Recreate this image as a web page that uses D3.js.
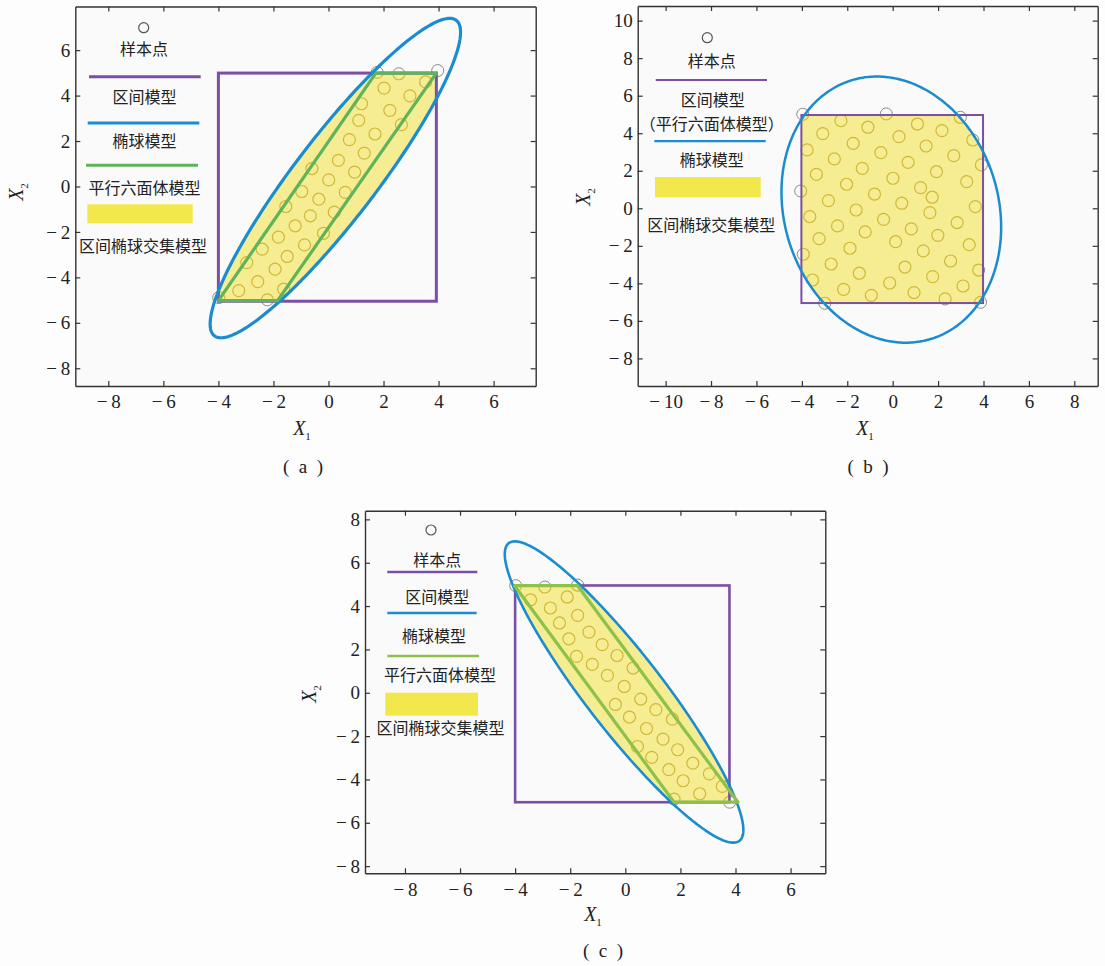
<!DOCTYPE html>
<html>
<head>
<meta charset="utf-8">
<script src="https://cdn.jsdelivr.net/npm/d3@7"></script>
<style>
  body { margin: 0; background: #fdfdfd; }
  svg text { font-family: "Liberation Serif", "Times New Roman", serif; fill: #222; }
  svg text.cn { font-family: "Noto Sans CJK SC", sans-serif; }
</style>
</head>
<body>
<div id="chart"></div>
<script>
// ---- data ----
const xTicksA = [-8, -6, -4, -2, 0, 2, 4, 6];
const yTicksA = [-8, -6, -4, -2, 0, 2, 4, 6];
const xTicksB = [-10, -8, -6, -4, -2, 0, 2, 4, 6, 8];
const yTicksB = [-8, -6, -4, -2, 0, 2, 4, 6, 8, 10];
const xTicksC = [-8, -6, -4, -2, 0, 2, 4, 6];
const yTicksC = [-8, -6, -4, -2, 0, 2, 4, 6, 8];

// interval model: [x1min, x1max, x2min, x2max]
const boxA = [-4, 3.92, -5.05, 4.99];
const boxB = [-4.02, 3.98, -5.05, 4.97];
const boxC = [-4, 3.78, -5.05, 4.95];

// ellipsoid model: [cx, cy, s11, s22, s12]
const ellipseA = [0.25, 0.37, 20.7, 49.4, 29.2];
const ellipseB = [-0.06, -0.07, 23.4, 50.3, -4.5];
const ellipseC = [-0.045, 0.035, 18.75, 48.3, -27.55];

// parallelepiped model vertices
const parallelA = [[-4, -5.02], [-1.85, -5.02], [3.92, 4.99], [1.72, 4.99]];
const parallelC = [[-4.02, 4.94], [-1.73, 4.94], [4.09, -5.05], [1.77, -5.05]];

const samplesA = [
  [1.77, 5.02], [2.56, 4.96], [3.97, 5.1], [-3.99, -4.89], [-2.22, -4.99], [-1.63, -4.52],
  [2.02, 4.33], [3.53, 4.6], [2.96, 3.99], [1.2, 3.64], [2.23, 3.35], [2.65, 2.72],
  [1.1, 2.91], [1.69, 2.31], [0.76, 2.06], [1.3, 1.47], [0.36, 1.15], [-0.6, 0.79],
  [0.95, 0.63], [0.01, 0.29], [-0.97, -0.22], [0.61, -0.26], [-0.35, -0.56], [-1.55, -0.88],
  [0.21, -1.13], [-0.66, -1.29], [-1.21, -1.73], [-0.18, -2.06], [-1.82, -2.23], [-0.87, -2.57],
  [-2.41, -2.76], [-1.5, -3.08], [-2.97, -3.35], [-1.94, -3.64], [-2.57, -4.19], [-3.26, -4.58]
];
const samplesB = [
  [-3.96, 5.01], [-0.28, 5.03], [2.98, 4.85], [3.53, 3.64], [3.91, 2.31], [-4.05, 0.92],
  [3.79, -3.29], [-2.99, -5.06], [3.87, -5.01],
  [-2.28, 4.67], [-1.09, 4.32], [1.09, 4.49], [-3.08, 3.98], [0.28, 3.82], [2.17, 4.14],
  [-1.74, 3.46], [1.47, 3.32], [-3.77, 3.11], [-0.52, 2.97], [2.69, 2.81], [-2.57, 2.63],
  [0.68, 2.45], [-1.34, 2.13], [1.93, 1.95], [-3.36, 1.81], [0.01, 1.6], [3.26, 1.42],
  [-2.03, 1.28], [1.23, 1.1], [-0.8, 0.76], [1.74, 0.59], [-2.83, 0.41], [0.4, 0.27],
  [3.64, 0.09], [-1.61, -0.09], [1.64, -0.23], [-3.65, -0.44], [-0.4, -0.59], [2.84, -0.76],
  [-2.43, -0.94], [0.82, -1.1], [-1.21, -1.26], [1.99, -1.44], [-3.24, -1.62], [0.13, -1.78],
  [3.37, -1.94], [-1.88, -2.13], [1.35, -2.27], [-3.94, -2.45], [2.55, -2.81], [-2.71, -2.97],
  [0.54, -3.13], [-1.47, -3.46], [1.76, -3.64], [-3.53, -3.82], [-0.13, -3.98], [3.1, -4.14],
  [-2.16, -4.32], [0.94, -4.49], [-0.94, -4.64], [2.31, -4.83]
];
const samplesC = [
  [-3.98, 4.94], [-2.92, 4.88], [-1.73, 4.97], [1.77, -4.91], [3.79, -5.05],
  [-3.44, 4.29], [-2.72, 3.91], [-2.11, 4.42], [-1.73, 3.57], [-2.39, 3.22], [-1.32, 2.8],
  [-2.05, 2.49], [-0.84, 2.22], [-0.3, 1.72], [-1.77, 1.68], [-1.2, 1.31], [-0.65, 0.8],
  [0.28, 1.14], [-0.04, 0.29], [0.56, -0.29], [-0.36, -0.54], [1.11, -0.78], [0.15, -1.12],
  [1.71, -1.22], [0.77, -1.65], [1.37, -2.14], [0.44, -2.48], [1.9, -2.63], [0.96, -2.98],
  [2.45, -3.25], [1.58, -3.55], [3.05, -3.74], [2.1, -4.06], [3.52, -4.32], [2.7, -4.66]
];

const legendLabels = ["样本点", "区间模型", "椭球模型", "平行六面体模型", "区间椭球交集模型"];
const legendLabelB = "（平行六面体模型）";

// ---- styles ----
const purple = "#7b4fa3";
const blue = "#1a8ccf";
const greenA = "#5fb35a";
const greenC = "#8cc24a";
const yellow = "#f3e84b";
const fillYellow = "#f6ed92";
const olive = "#d1b838";
const grey = "#8a8a8a";

const svg = d3.select("#chart").append("svg")
    .attr("width", 1105)
    .attr("height", 966);

const panels = [
  {
    id: "a", left: 75.3, right: 535.7, top: 6.5, bottom: 386,
    xDom: [-9.2, 7.53], yDom: [-8.78, 7.92], xTicks: xTicksA, yTicks: yTicksA,
    box: boxA, ell: ellipseA, para: parallelA, paraColor: greenA, pts: samplesA,
    boxW: 3, ellW: 3.2, paraW: 3.2,
    x1Lab: [302, 428], x2Lab: [16, 192], caption: [303, 466], capText: "a",
    legend: [
      {kind: "marker", x: 143.7, y: 27.7},
      {kind: "text", x: 144, y: 49.5, label: legendLabels[0]},
      {kind: "line", x0: 89, x1: 200.7, y: 76.7, color: purple, w: 3},
      {kind: "text", x: 144.5, y: 97, label: legendLabels[1]},
      {kind: "line", x0: 87.7, x1: 199.3, y: 123, color: blue, w: 3},
      {kind: "text", x: 144.5, y: 141.7, label: legendLabels[2]},
      {kind: "line", x0: 86, x1: 198, y: 165.3, color: greenA, w: 3},
      {kind: "text", x: 144.5, y: 188.3, label: legendLabels[3]},
      {kind: "rect", x0: 87.3, x1: 192.7, y0: 204.3, y1: 223.3},
      {kind: "text", x: 143, y: 246, label: legendLabels[4]}
    ]
  },
  {
    id: "b", left: 637.7, right: 1097.7, top: 6, bottom: 386,
    xDom: [-11.23, 9.03], yDom: [-9.47, 10.78], xTicks: xTicksB, yTicks: yTicksB,
    box: boxB, ell: ellipseB, para: null, pts: samplesB,
    boxW: 2, ellW: 2.5,
    x1Lab: [865, 428], x2Lab: [583, 197], caption: [868, 466], capText: "b",
    legend: [
      {kind: "marker", x: 707.3, y: 37.7},
      {kind: "text", x: 711.7, y: 61.7, label: legendLabels[0]},
      {kind: "line", x0: 655.7, x1: 767, y: 80, color: purple, w: 2},
      {kind: "text", x: 712.7, y: 100.3, label: legendLabels[1]},
      {kind: "text", x: 711.7, y: 124.2, label: legendLabelB},
      {kind: "line", x0: 654.3, x1: 765.7, y: 141.2, color: blue, w: 2.2},
      {kind: "text", x: 711.7, y: 160.7, label: legendLabels[2]},
      {kind: "rect", x0: 655, x1: 760.7, y0: 177, y1: 197.3},
      {kind: "text", x: 711.3, y: 225.7, label: legendLabels[4]}
    ]
  },
  {
    id: "c", left: 365, right: 825.3, top: 510.7, bottom: 873.3,
    xDom: [-9.45, 7.26], yDom: [-8.33, 8.4], xTicks: xTicksC, yTicks: yTicksC,
    box: boxC, ell: ellipseC, para: parallelC, paraColor: greenC, pts: samplesC,
    boxW: 2.6, ellW: 2.6, paraW: 3.2,
    x1Lab: [593, 914], x2Lab: [309, 694], caption: [603, 950], capText: "c",
    legend: [
      {kind: "marker", x: 431, y: 530},
      {kind: "text", x: 437.3, y: 560, label: legendLabels[0]},
      {kind: "line", x0: 387.3, x1: 477.3, y: 572, color: purple, w: 2.5},
      {kind: "text", x: 437.3, y: 597.3, label: legendLabels[1]},
      {kind: "line", x0: 387.3, x1: 476.7, y: 613, color: blue, w: 2.5},
      {kind: "text", x: 434, y: 636.7, label: legendLabels[2]},
      {kind: "line", x0: 387.3, x1: 479, y: 656, color: greenC, w: 2.5},
      {kind: "text", x: 440, y: 675.7, label: legendLabels[3]},
      {kind: "rect", x0: 385.3, x1: 478, y0: 692.7, y1: 715.7},
      {kind: "text", x: 440.5, y: 728.3, label: legendLabels[4]}
    ]
  }
];

const fmt = d => d < 0 ? "\u2212\u2009" + Math.abs(d) : String(d);

// ellipse outline from centre + shape matrix (via its Cholesky factor)
function ellipsePoints(e) {
  const [cx, cy, s11, s22, s12] = e;
  const l11 = Math.sqrt(s11), l21 = s12 / l11, l22 = Math.sqrt(s22 - l21 * l21);
  return d3.range(0, 360, 1).map(a => {
    const t = a * Math.PI / 180;
    return [cx + l11 * Math.cos(t), cy + l21 * Math.cos(t) + l22 * Math.sin(t)];
  });
}

const defs = svg.append("defs");

panels.forEach(p => {
  const x = d3.scaleLinear().domain(p.xDom).range([p.left, p.right]);
  const y = d3.scaleLinear().domain(p.yDom).range([p.bottom, p.top]);
  const line = d3.line().x(d => x(d[0])).y(d => y(d[1])).curve(d3.curveLinearClosed);
  const ellPath = line(ellipsePoints(p.ell));

  defs.append("clipPath").attr("id", "plot-" + p.id)
    .append("rect")
      .attr("x", p.left).attr("y", p.top)
      .attr("width", p.right - p.left).attr("height", p.bottom - p.top);
  defs.append("clipPath").attr("id", "ell-" + p.id)
    .append("path").attr("d", ellPath);
  defs.append("clipPath").attr("id", "box-" + p.id)
    .append("rect")
      .attr("x", x(p.box[0])).attr("y", y(p.box[3]))
      .attr("width", x(p.box[1]) - x(p.box[0]))
      .attr("height", y(p.box[2]) - y(p.box[3]));

  // plot background
  svg.append("rect")
      .attr("x", p.left).attr("y", p.top)
      .attr("width", p.right - p.left).attr("height", p.bottom - p.top)
      .attr("fill", "#fafafa");

  const g = svg.append("g").attr("clip-path", `url(#plot-${p.id})`);

  // samples (grey), then intersection fill, then samples seen through the fill
  g.append("g").selectAll("circle")
    .data(p.pts)
    .enter().append("circle")
      .attr("cx", d => x(d[0]))
      .attr("cy", d => y(d[1]))
      .attr("r", 6)
      .attr("fill", "none")
      .attr("stroke", grey)
      .attr("stroke-width", 1);

  g.append("g").attr("clip-path", `url(#ell-${p.id})`)
    .append("rect")
      .attr("x", x(p.box[0])).attr("y", y(p.box[3]))
      .attr("width", x(p.box[1]) - x(p.box[0]))
      .attr("height", y(p.box[2]) - y(p.box[3]))
      .attr("fill", fillYellow);

  g.append("g").attr("clip-path", `url(#box-${p.id})`)
    .append("g").attr("clip-path", `url(#ell-${p.id})`)
    .selectAll("circle")
    .data(p.pts)
    .enter().append("circle")
      .attr("cx", d => x(d[0]))
      .attr("cy", d => y(d[1]))
      .attr("r", 6)
      .attr("fill", "none")
      .attr("stroke", olive)
      .attr("stroke-width", 1.2);

  // interval model
  g.append("rect")
      .attr("x", x(p.box[0])).attr("y", y(p.box[3]))
      .attr("width", x(p.box[1]) - x(p.box[0]))
      .attr("height", y(p.box[2]) - y(p.box[3]))
      .attr("fill", "none")
      .attr("stroke", purple)
      .attr("stroke-width", p.boxW);

  // ellipsoid model
  g.append("path")
      .attr("d", ellPath)
      .attr("fill", "none")
      .attr("stroke", blue)
      .attr("stroke-width", p.ellW);

  // parallelepiped model
  if (p.para) {
    g.append("path")
        .attr("d", line(p.para))
        .attr("fill", "none")
        .attr("stroke", p.paraColor)
        .attr("stroke-width", p.paraW)
        .attr("stroke-linejoin", "round");
  }

  // axes, MATLAB-style box with inward ticks
  const axBottom = svg.append("g")
      .attr("transform", `translate(0,${p.bottom})`)
      .call(d3.axisBottom(x).tickValues(p.xTicks).tickFormat(fmt)
        .tickSizeInner(-5).tickSizeOuter(0).tickPadding(9));
  const axLeft = svg.append("g")
      .attr("transform", `translate(${p.left},0)`)
      .call(d3.axisLeft(y).tickValues(p.yTicks).tickFormat(fmt)
        .tickSizeInner(-5).tickSizeOuter(0).tickPadding(5));
  const axTop = svg.append("g")
      .attr("transform", `translate(0,${p.top})`)
      .call(d3.axisTop(x).tickValues(p.xTicks).tickFormat("")
        .tickSizeInner(-5).tickSizeOuter(0));
  const axRight = svg.append("g")
      .attr("transform", `translate(${p.right},0)`)
      .call(d3.axisRight(y).tickValues(p.yTicks).tickFormat("")
        .tickSizeInner(-5).tickSizeOuter(0));
  [axBottom, axLeft, axTop, axRight].forEach(a => {
    a.attr("font-family", "'Liberation Serif', 'Times New Roman', serif");
    a.select(".domain").attr("stroke", "#333").attr("stroke-width", 1.4);
    a.selectAll(".tick line").attr("stroke", "#333").attr("stroke-width", 1.2);
    a.selectAll("text")
        .attr("font-size", 19)
        .attr("fill", "#222");
  });

  // axis titles
  const t1 = svg.append("text")
      .attr("x", p.x1Lab[0]).attr("y", p.x1Lab[1])
      .attr("text-anchor", "middle")
      .attr("dy", "0.35em")
      .attr("font-size", 20);
  t1.append("tspan").attr("font-style", "italic").text("X");
  t1.append("tspan").attr("font-size", 11).attr("dy", 5).text("1");

  const t2 = svg.append("text")
      .attr("transform", `translate(${p.x2Lab[0]},${p.x2Lab[1]}) rotate(-90)`)
      .attr("text-anchor", "middle")
      .attr("dy", "0.35em")
      .attr("font-size", 20);
  t2.append("tspan").attr("font-style", "italic").text("X");
  t2.append("tspan").attr("font-size", 11).attr("dy", 5).text("2");

  // caption, e.g. "( a )"
  svg.append("text")
      .attr("x", p.caption[0]).attr("y", p.caption[1])
      .attr("text-anchor", "middle")
      .attr("dy", "0.35em")
      .attr("font-size", 19)
      .attr("xml:space", "preserve")
      .text("(\u2002" + p.capText + "\u2002)");

  // legend
  p.legend.forEach(item => {
    if (item.kind === "marker") {
      svg.append("circle")
          .attr("cx", item.x).attr("cy", item.y).attr("r", 5)
          .attr("fill", "none").attr("stroke", "#555").attr("stroke-width", 1.2);
    } else if (item.kind === "text") {
      svg.append("text")
          .attr("class", "cn")
          .attr("x", item.x).attr("y", item.y)
          .attr("text-anchor", "middle")
          .attr("dy", "0.36em")
          .attr("font-size", 16)
          .text(item.label);
    } else if (item.kind === "line") {
      svg.append("line")
          .attr("x1", item.x0).attr("x2", item.x1)
          .attr("y1", item.y).attr("y2", item.y)
          .attr("stroke", item.color)
          .attr("stroke-width", item.w);
    } else if (item.kind === "rect") {
      svg.append("rect")
          .attr("x", item.x0).attr("y", item.y0)
          .attr("width", item.x1 - item.x0).attr("height", item.y1 - item.y0)
          .attr("fill", yellow);
    }
  });
});
</script>
</body>
</html>
